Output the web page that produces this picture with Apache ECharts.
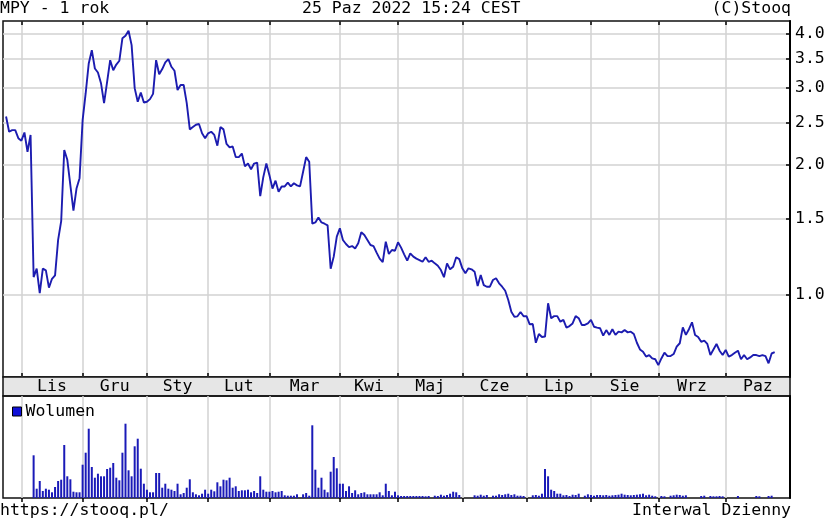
<!DOCTYPE html>
<html><head><meta charset="utf-8">
<script src="https://cdn.jsdelivr.net/npm/echarts@6/dist/echarts.min.js"></script>
<style>html,body{margin:0;padding:0;background:#fff}#c{width:828px;height:522px}</style>
</head><body><div id="c"></div>
<script>
// ---- data ----
const ticker = 'MPY - 1 rok';
const stamp = '25 Paz 2022 15:24 CEST';
const copyright = '(C)Stooq';
const footerLeft = 'https://stooq.pl/';
const footerRight = 'Interwal Dzienny';
const volumeName = 'Wolumen';
const monthNames = ['Sty','Lut','Mar','Kwi','Maj','Cze','Lip','Sie','Wrz','Paz','Lis','Gru'];
const priceTicks = [1.0, 1.5, 2.0, 2.5, 3.0, 3.5, 4.0];
const holidays = ['2021-11-01','2021-11-11','2021-12-24','2021-12-31','2022-01-06','2022-04-15','2022-04-18','2022-05-03','2022-06-16','2022-08-15','2022-11-01'];
const axisStart = '2021-10-22';   // one session before first quote
const firstQuote = '2021-10-25';
const axisEnd = '2022-11-02';

const closes = [
2.58,2.38,2.40,2.40,2.30,2.27,2.37,2.14,2.34,1.10,
1.15,1.01,1.15,1.14,1.04,1.09,1.11,1.34,1.48,2.16,
2.05,1.79,1.565,1.76,1.86,2.53,2.92,3.42,3.67,3.33,
3.26,3.08,2.77,3.10,3.48,3.30,3.40,3.47,3.91,3.96,
4.07,3.77,3.00,2.79,2.93,2.78,2.79,2.83,2.91,3.48,
3.23,3.32,3.44,3.50,3.36,3.29,2.97,3.05,3.05,2.77,
2.41,2.44,2.47,2.48,2.36,2.30,2.36,2.38,2.34,2.21,
2.44,2.41,2.23,2.19,2.20,2.08,2.08,2.12,1.98,2.01,
1.95,2.01,2.02,1.69,1.87,2.01,1.89,1.76,1.835,1.73,
1.78,1.78,1.816,1.78,1.81,1.79,1.78,1.925,2.08,2.03,
1.46,1.47,1.51,1.47,1.46,1.448,1.15,1.226,1.363,1.425,
1.339,1.311,1.29,1.297,1.28,1.316,1.395,1.375,1.339,1.304,
1.297,1.252,1.213,1.191,1.327,1.243,1.27,1.265,1.323,1.286,
1.241,1.20,1.248,1.226,1.213,1.204,1.193,1.222,1.193,1.20,
1.183,1.168,1.142,1.099,1.183,1.146,1.162,1.222,1.21,1.152,
1.122,1.152,1.146,1.132,1.049,1.112,1.054,1.045,1.045,1.083,
1.093,1.064,1.045,1.023,0.974,0.915,0.891,0.893,0.914,0.893,
0.893,0.856,0.857,0.776,0.813,0.80,0.802,0.957,0.884,0.894,
0.894,0.868,0.876,0.841,0.848,0.86,0.894,0.884,0.853,0.853,
0.86,0.876,0.845,0.841,0.838,0.806,0.83,0.809,0.834,0.809,
0.823,0.82,0.83,0.82,0.823,0.813,0.776,0.749,0.740,0.721,
0.727,0.714,0.711,0.689,0.714,0.736,0.723,0.723,0.731,0.76,
0.774,0.842,0.809,0.834,0.865,0.809,0.80,0.78,0.785,0.771,
0.727,0.749,0.771,0.744,0.727,0.747,0.721,0.727,0.736,0.744,
0.711,0.727,0.711,0.718,0.727,0.727,0.723,0.727,0.723,0.696,
0.733,0.738
];

const volumes = [
0,0,0,0,0,0,0,0,0,4270,
930,1700,700,930,830,570,1100,1700,1830,5300,
2170,1870,630,570,570,3330,4530,6930,3100,2030,
2430,2170,2170,2900,3030,3500,2030,1770,4530,7430,
2770,2170,5170,5930,2930,1430,830,570,570,2500,
2500,1030,1430,930,830,700,1430,370,500,1030,
1870,570,370,270,430,830,430,830,670,1570,
1170,1830,1770,2030,1030,1170,700,770,770,830,
570,700,500,2170,830,630,630,700,570,630,
700,270,230,230,230,370,0,370,500,230,
7270,2830,1030,2030,830,570,2630,4100,2970,1430,
1430,700,1170,500,770,370,500,570,370,370,
370,370,570,270,1430,700,270,630,270,200,
200,200,200,200,200,200,200,170,200,0,
230,200,330,230,300,430,630,570,300,0,
0,0,0,270,230,330,230,300,0,230,
230,370,300,370,430,300,370,230,230,200,
0,0,270,300,230,430,2900,2170,830,700,
430,430,270,300,200,330,300,430,0,230,
370,300,230,300,300,270,300,230,270,300,
330,430,330,300,270,300,330,370,430,270,
330,230,170,0,200,170,0,230,270,330,
300,230,270,0,0,0,0,200,230,0,
200,170,170,200,170,0,0,0,0,200,
0,0,0,0,0,200,170,0,0,200,
230
];

// ---- trading-day calendar ----
function ymd(d){return d.toISOString().slice(0,10);}
const holidaySet = new Set(holidays);
const days = [];
for (let d = new Date(axisStart + 'T00:00:00Z'); ymd(d) <= axisEnd; d.setUTCDate(d.getUTCDate() + 1)) {
  const wd = d.getUTCDay();
  if (wd === 0 || wd === 6 || holidaySet.has(ymd(d))) continue;
  days.push(ymd(d));
}
const N = days.length;
const offset = days.indexOf(firstQuote);
const priceData = days.map((_, k) => { const v = closes[k - offset]; return v === undefined ? null : v; });
const volData = days.map((_, k) => { const v = volumes[k - offset]; return v === undefined ? null : v; });

const monthStarts = [];
for (let k = 1; k < N; k++) if (days[k].slice(5,7) !== days[k-1].slice(5,7)) monthStarts.push(k);
const startSet = new Set(monthStarts.filter(k => k < N - 1));
const labelPos = [], labelName = {};
for (let j = 0; j < monthStarts.length; j++) {
  const a = monthStarts[j];
  const b = j + 1 < monthStarts.length ? monthStarts[j+1] : N - 1;
  if (b <= a) continue;
  const mid = (a + b) / 2;
  labelPos.push(mid);
  labelName[mid] = monthNames[parseInt(days[a].slice(5,7), 10) - 1];
}

const FONT = 'DejaVu Sans Mono';
const FS = 16.5;
const isStart = (i) => startSet.has(i);
const gridLine = { show: true, interval: isStart, lineStyle: { color: '#d2d2d2', width: 1.5 } };
const tickIn = (len) => ({ show: true, inside: true, length: len, interval: isStart, lineStyle: { color: '#000', width: 1.5 } });

const chart = echarts.init(document.getElementById('c'), null, { renderer: 'canvas' });
chart.setOption({
  animation: false,
  backgroundColor: '#fff',
  textStyle: { fontFamily: FONT },
  grid: [
    { left: 3, right: 38, top: 21, bottom: 145, show: true, borderColor: '#111', borderWidth: 1.5, containLabel: false },
    { left: 3, right: 38, top: 377, height: 19, show: true, backgroundColor: '#e6e6e6', borderColor: '#111', borderWidth: 1.5 },
    { left: 3, right: 38, top: 396, bottom: 24, show: true, borderColor: '#111', borderWidth: 1.5 }
  ],
  legend: {
    data: [volumeName], left: 7, top: 398, icon: 'rect', itemWidth: 9, itemHeight: 9, itemGap: 4,
    textStyle: { fontFamily: FONT, fontSize: FS, color: '#000', padding: [0,0,0,-1] },
    itemStyle: { color: '#1010d8', borderColor: '#000', borderWidth: 1 }
  },
  xAxis: [
    { type: 'category', gridIndex: 0, data: days, boundaryGap: false, position: 'bottom',
      axisLine: { show: false }, axisTick: tickIn(4), axisLabel: { show: false }, splitLine: gridLine },
    { type: 'category', gridIndex: 0, data: days, boundaryGap: false, position: 'top',
      axisLine: { show: false }, axisTick: tickIn(4), axisLabel: { show: false }, splitLine: { show: false } },
    { type: 'value', gridIndex: 1, min: 0, max: N - 1, position: 'top',
      axisLine: { show: false }, axisTick: { show: false }, splitLine: { show: false },
      axisLabel: { show: true, inside: true, margin: 10, verticalAlign: 'middle', customValues: labelPos,
        formatter: (v) => labelName[v] || '', fontFamily: FONT, fontSize: FS, color: '#000' } },
    { type: 'category', gridIndex: 2, data: days, boundaryGap: false, position: 'top',
      axisLine: { show: false }, axisTick: tickIn(4), axisLabel: { show: false }, splitLine: gridLine }
  ],
  yAxis: [
    { type: 'log', logBase: 10, gridIndex: 0, position: 'right', min: 0.647, max: 4.285,
      axisLine: { show: true, lineStyle: { color: '#000', width: 2 } },
      axisTick: { show: true, inside: true, length: 4, customValues: priceTicks, lineStyle: { color: '#000', width: 1.5 } },
      axisLabel: { show: true, margin: 5, customValues: priceTicks, formatter: (v) => Number(v).toFixed(1),
        fontFamily: FONT, fontSize: FS, color: '#000' },
      splitLine: { show: true, lineStyle: { color: '#d2d2d2', width: 1.5 } } },
    { type: 'value', gridIndex: 1, show: false, min: 0, max: 1 },
    { type: 'value', gridIndex: 2, position: 'right', min: 0, max: 10200,
      axisLine: { show: true, lineStyle: { color: '#000', width: 2 } },
      axisTick: { show: false }, axisLabel: { show: false }, splitLine: { show: false } }
  ],
  series: [
    { type: 'line', name: ticker, xAxisIndex: 0, yAxisIndex: 0, data: priceData, showSymbol: false,
      connectNulls: false, lineStyle: { color: '#1c1cb0', width: 1.9 }, silent: true },
    { type: 'bar', name: volumeName, xAxisIndex: 3, yAxisIndex: 2, data: volData, barWidth: 2,
      itemStyle: { color: '#1a1ab8' }, silent: true }
  ],
  graphic: [
    { type: 'text', left: 0, top: 0, style: { text: ticker, font: FS + 'px ' + FONT, fill: '#000' } },
    { type: 'text', left: 302, top: 0, style: { text: stamp, font: FS + 'px ' + FONT, fill: '#000' } },
    { type: 'text', right: 37, top: 0, style: { text: copyright, font: FS + 'px ' + FONT, fill: '#000' } },
    { type: 'text', left: 0, top: 502, style: { text: footerLeft, font: FS + 'px ' + FONT, fill: '#000' } },
    { type: 'text', right: 37, top: 502, style: { text: footerRight, font: FS + 'px ' + FONT, fill: '#000' } }
  ]
});
</script></body></html>
